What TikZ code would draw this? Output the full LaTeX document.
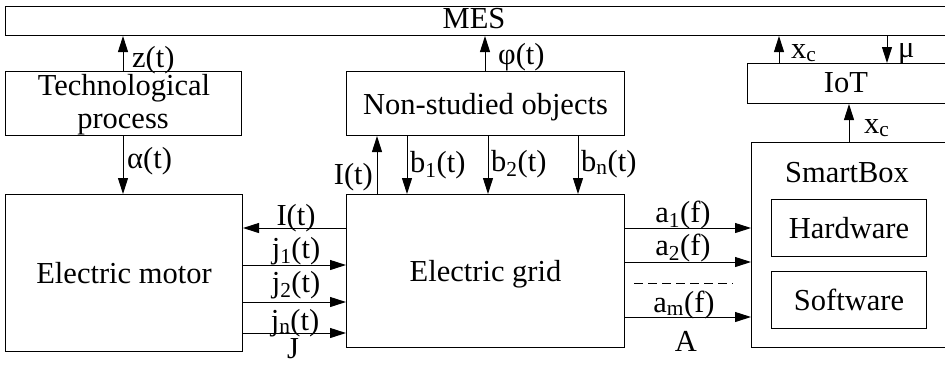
\documentclass[tikz,border=0pt]{standalone}
\usepackage{fontspec}
\setmainfont{Liberation Serif}
\usetikzlibrary{arrows.meta,calc}
\begin{document}
\begin{tikzpicture}[x=1pt,y=-1pt,
  box/.style={draw,line width=1pt,inner sep=0pt,anchor=north west,align=center,text depth=0pt},
  arr/.style={-{Triangle[length=16pt,width=10pt]},line width=1pt},
  lbl/.style={inner sep=0pt},
  every node/.style={font=\fontsize{30.5}{33}\selectfont}]
\useasboundingbox (0,0) rectangle (945,368);
% boxes
\node[box,minimum width=943pt,minimum height=29pt] (mes) at (5,6) {};
\node[lbl,anchor=base] (mest) at (474,28) {MES};
\node[box,minimum width=236pt,minimum height=64pt] (tech) at (5,71) {};
\node[lbl,anchor=base] (tech1) at (124,95) {Technological};
\node[lbl,anchor=base] (tech2) at (123,128) {process};
\node[box,minimum width=237pt,minimum height=157pt] (motor) at (5,194) {Electric motor};
\node[box,minimum width=278pt,minimum height=153pt] (grid) at (346,194) {Electric grid};
\node[box,minimum width=278pt,minimum height=64pt] (nso) at (346,71) {Non-studied objects};
\node[box,minimum width=201pt,minimum height=40pt] (iot) at (747,63) {};
\node[lbl,anchor=base] (iott) at (846,92) {IoT};
\node[box,minimum width=197pt,minimum height=205pt] (sbox) at (751,142) {};
\node[lbl,anchor=base] (sbt) at (847,182) {SmartBox};
\node[box,minimum width=155pt,minimum height=57pt] (hw) at (771,199) {Hardware};
\node[box,minimum width=155pt,minimum height=57pt] (sw) at (771,271) {Software};
% coordinates
\coordinate (cz) at (123,71);
\coordinate (ca) at (123,135);
\coordinate (cphi) at (485,71);
\coordinate (cI) at (377,194);
\coordinate (cb1) at (407,135);
\coordinate (cb2) at (488,135);
\coordinate (cbn) at (578,135);
\coordinate (cx1) at (779,63);
\coordinate (cmu) at (887,35);
\coordinate (cx2) at (849,142);
\coordinate (hI) at (346,228);
\coordinate (hj1) at (242,265);
\coordinate (hj2) at (242,302);
\coordinate (hjn) at (242,333);
\coordinate (ha1) at (624,228);
\coordinate (ha2) at (624,262);
\coordinate (ham) at (624,317);
% vertical arrows
\draw[arr] (cz) -- (cz |- mes.south);
\node[lbl,anchor=base west] (lz) at (132,67) {z(t)};
\draw[arr] (ca) -- (ca |- motor.north);
\node[lbl,anchor=base west] (la) at (127,168) {α(t)};
\draw[arr] (cphi) -- (cphi |- mes.south);
\node[lbl,anchor=base west] (lphi) at (498,64) {φ(t)};
\draw[arr] (cI) -- (cI |- nso.south);
\node[lbl,anchor=base east] (lI) at (373,184) {I(t)};
\draw[arr] (cb1) -- (cb1 |- grid.north);
\node[lbl,anchor=base west] (lb1) at (410,172) {b\textsubscript{1}(t)};
\draw[arr] (cb2) -- (cb2 |- grid.north);
\node[lbl,anchor=base west] (lb2) at (491,171) {b\textsubscript{2}(t)};
\draw[arr] (cbn) -- (cbn |- grid.north);
\node[lbl,anchor=base west] (lbn) at (581,171) {b\textsubscript{n}(t)};
\draw[arr] (cx1) -- (cx1 |- mes.south);
\node[lbl,anchor=base west] (lx1) at (791,58) {x\textsubscript{c}};
\draw[arr] (cmu) -- (cmu |- iot.north);
\node[lbl,anchor=base west] (lmu) at (898,57) {μ};
\draw[arr] (cx2) -- (cx2 |- iot.south);
\node[lbl,anchor=base west] (lx2) at (864,133) {x\textsubscript{c}};
% horizontal arrows
\draw[arr] (hI) -- (hI -| motor.east);
\node[lbl,anchor=base] (lhI) at (296,225) {I(t)};
\draw[arr] (hj1) -- (hj1 -| grid.west);
\node[lbl,anchor=base] (lj1) at (296,258) {j\textsubscript{1}(t)};
\draw[arr] (hj2) -- (hj2 -| grid.west);
\node[lbl,anchor=base] (lj2) at (296,292) {j\textsubscript{2}(t)};
\draw[arr] (hjn) -- (hjn -| grid.west);
\node[lbl,anchor=base] (ljn) at (295,330) {j\textsubscript{n}(t)};
\node[lbl,anchor=base] (J) at (293,358) {J};
\draw[arr] (ha1) -- (ha1 -| sbox.west);
\node[lbl,anchor=base] (la1) at (683,222) {a\textsubscript{1}(f)};
\draw[arr] (ha2) -- (ha2 -| sbox.west);
\node[lbl,anchor=base] (la2) at (683,255) {a\textsubscript{2}(f)};
\draw[arr] (ham) -- (ham -| sbox.west);
\node[lbl,anchor=base] (lam) at (684,312) {a\textsubscript{m}(f)};
\coordinate (d1) at (634,283);
\coordinate (d2) at (733,283);
\draw[line width=1pt,dash pattern=on 9pt off 5pt] (d1) -- (d2);
\node[lbl,anchor=base] (A) at (686,351) {A};
\end{tikzpicture}
\end{document}
